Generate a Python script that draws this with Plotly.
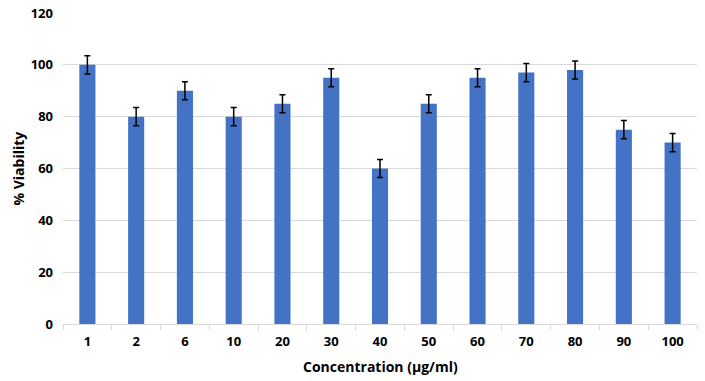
import plotly.graph_objects as go

categories = ["1", "2", "6", "10", "20", "30", "40", "50", "60", "70", "80", "90", "100"]
viability = [100, 80, 90, 80, 85, 95, 60, 85, 95, 97, 98, 75, 70]
errors = [3.5, 3.5, 3.5, 3.5, 3.5, 3.5, 3.5, 3.5, 3.5, 3.5, 3.5, 3.5, 3.5]
y_ticks = [0, 20, 40, 60, 80, 100, 120]

font_family = "Open Sans, Liberation Sans, sans-serif"

fig = go.Figure(
    go.Bar(
        x=categories,
        y=viability,
        marker=dict(color="#4472C4", line=dict(width=0)),
        width=0.33,
        error_y=dict(type="data", array=errors, visible=True, color="#000000",
                     thickness=1.5, width=3),
    )
)

fig.update_layout(
    width=705,
    height=381,
    margin=dict(l=63, r=8, t=13, b=57, autoexpand=False),
    paper_bgcolor="white",
    plot_bgcolor="white",
    showlegend=False,
    font=dict(family=font_family, color="#000000"),
    bargap=0.67,
    annotations=[
        dict(text="<b>Concentration (µg/ml)</b>", xref="paper", yref="paper",
             x=0.5, y=0, yshift=-42, xanchor="center", yanchor="middle",
             showarrow=False, font=dict(size=14, family=font_family)),
        dict(text="<b>% Viability</b>", xref="paper", yref="paper",
             x=0, xshift=-45, y=0.5, xanchor="center", yanchor="middle",
             textangle=-90, showarrow=False, font=dict(size=14, family=font_family)),
    ],
)

fig.update_xaxes(
    type="category",
    automargin=False,
    tickfont=dict(size=13, family=font_family, weight="bold"),
    ticklabelstandoff=5,
    showline=True,
    linecolor="#d9d9d9",
    linewidth=1,
    ticks="outside",
    ticklen=5,
    tickcolor="#d9d9d9",
    tickson="boundaries",
    showgrid=False,
)

fig.update_yaxes(
    range=[0, 120],
    automargin=False,
    tickvals=y_ticks,
    ticktext=[str(v) for v in y_ticks],
    tickfont=dict(size=13, family=font_family, weight="bold"),
    ticklabelstandoff=9,
    showgrid=True,
    gridcolor="#d9d9d9",
    gridwidth=1,
    zeroline=False,
    showline=False,
    ticks="",
)

fig.write_html("out.html", config={"displayModeBar": False},
               post_script="document.body.style.margin='0';")
